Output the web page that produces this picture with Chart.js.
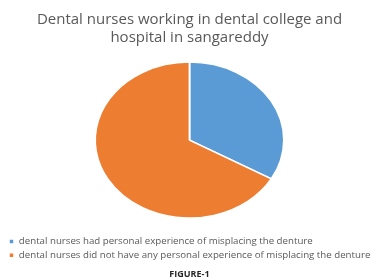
<!DOCTYPE html>
<html>
<head>
<meta charset="utf-8">
<script src="https://cdn.jsdelivr.net/npm/chart.js@4"></script>
<style>
  html, body { margin: 0; padding: 0; background: #fff; }
  #wrap { width: 379px; height: 279px; }
</style>
</head>
<body>
<div id="wrap"><canvas id="dental-pie" width="379" height="279"></canvas></div>
<script>
const categories = [
    'dental nurses had personal experience of misplacing the denture',
    'dental nurses did not have any personal experience of misplacing the denture'
];
const shares = [33.3, 66.7];
const sliceColors = ['#5B9BD5', '#ED7D31'];
const titleLines = ['Dental nurses working in dental college and', 'hospital in sangareddy'];
const figureLabel = 'FIGURE-1';

// pie in the reference is a bit wider than tall
const stretchX = 1.21;
const stretchPlugin = {
    id: 'stretch',
    beforeDatasetsDraw(chart) {
        const ctx = chart.ctx;
        const meta = chart.getDatasetMeta(0);
        const cx = meta.data[0].x;
        ctx.save();
        ctx.translate(cx, 0);
        ctx.scale(stretchX, 1);
        ctx.translate(-cx, 0);
    },
    afterDatasetsDraw(chart) {
        chart.ctx.restore();
    }
};

const canvas = document.querySelector('#dental-pie');
new Chart(canvas, {
    type: 'pie',
    data: {
        labels: categories,
        datasets: [{
            data: shares,
            backgroundColor: sliceColors,
            borderColor: '#fff',
            borderWidth: 1.5,
            radius: 78
        }]
    },
    options: {
        responsive: false,
        animation: false,
        layout: { padding: { left: 5, right: 5, top: 0, bottom: 0 } },
        plugins: {
            title: {
                display: true,
                text: titleLines,
                color: '#595959',
                font: { family: 'Open Sans', size: 15, weight: 'normal', lineHeight: 1.25 },
                padding: { top: 10, bottom: 0 }
            },
            legend: {
                position: 'bottom',
                align: 'start',
                labels: {
                    color: '#595959',
                    boxWidth: 5,
                    boxHeight: 5,
                    padding: 4,
                    font: { family: 'Open Sans', size: 9.7 }
                }
            },
            subtitle: {
                display: true,
                position: 'bottom',
                text: figureLabel,
                color: '#262626',
                font: { family: 'Open Sans', size: 9, weight: 'bold', lineHeight: 1 },
                padding: { top: 0, bottom: 0 }
            },
            tooltip: { enabled: false }
        }
    },
    plugins: [stretchPlugin]
});
</script>
</body>
</html>
